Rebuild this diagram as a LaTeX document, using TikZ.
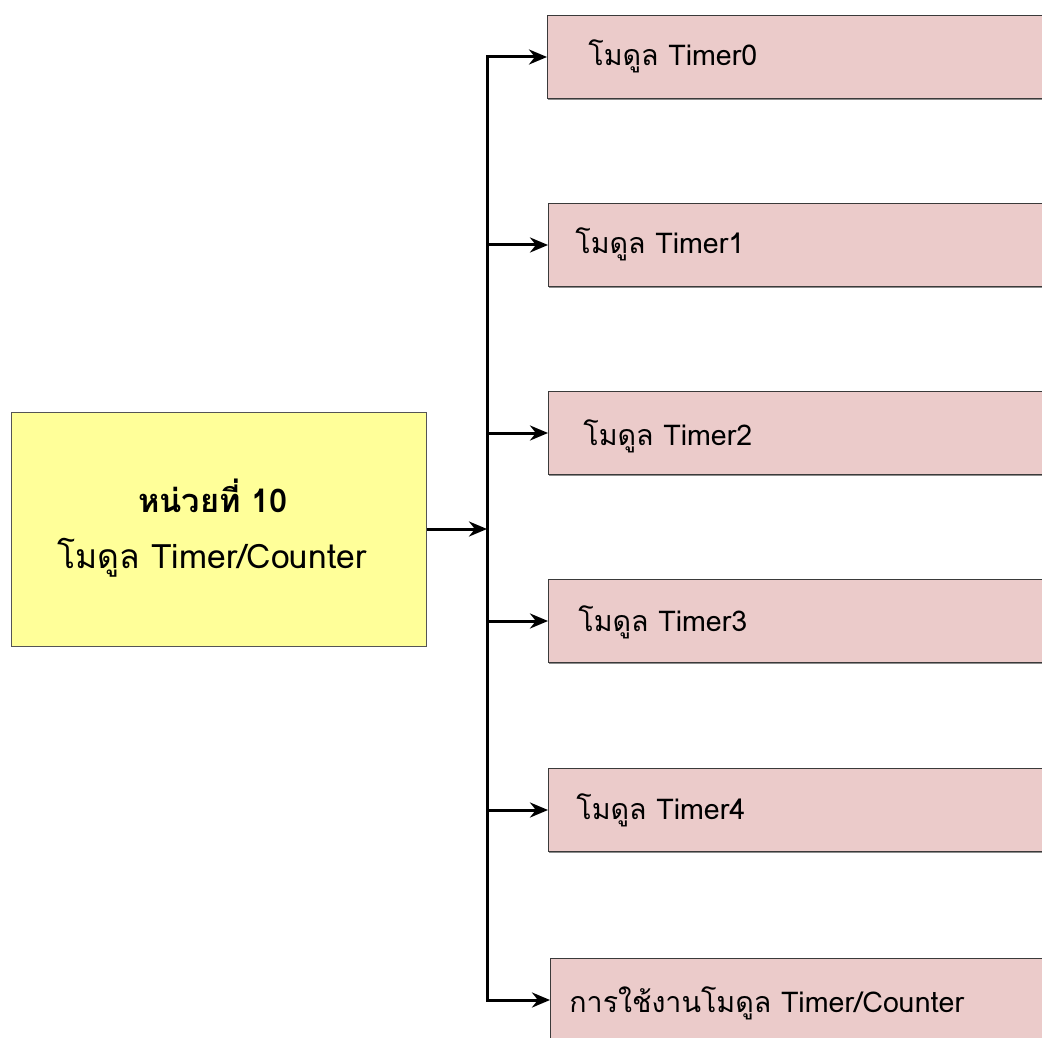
\documentclass[tikz,border=0pt]{standalone}
\usepackage{fontspec}
\newfontfamily\thaifont[Script=Thai]{Loma}
\usetikzlibrary{arrows.meta,shadows}

\definecolor{unitfill}{HTML}{FFFF99}
\definecolor{unitdraw}{HTML}{555555}
\definecolor{modfill}{HTML}{EBCBCA}
\definecolor{moddraw}{HTML}{3A3A3A}

\tikzset{
  x=0.5pt, y=-0.5pt,
  unitbox/.style={draw=unitdraw, line width=0.5pt, fill=unitfill,
    minimum width=207.5pt, minimum height=117pt, inner sep=0pt},
  modbox/.style={draw=moddraw, line width=0.5pt, fill=modfill,
    minimum width=260pt, minimum height=41.5pt, inner sep=0pt, anchor=west,
    drop shadow={shadow xshift=0.4pt, shadow yshift=-0.8pt, fill=black!45, opacity=1}},
  label/.style={font=\thaifont\fontsize{14.3}{17}\selectfont, inner sep=0pt, anchor=base west},
  ulabel/.style={font=\thaifont\fontsize{16.8}{20}\selectfont, inner sep=0pt, anchor=base},
  conn/.style={line width=1.5pt, -{Stealth[length=9pt, width=7.5pt]}},
}

\begin{document}
\begin{tikzpicture}
\useasboundingbox (0,0) rectangle (1042,1037);
\clip (0,0) rectangle (1042,1037);

% chapter box
\node[unitbox] (unit) at (218.5,529) {};
\node[ulabel, font=\thaifont\bfseries\fontsize{16.3}{19}\selectfont] (unitA) at (213,512) {หน่วยที่ 10};
\node[ulabel] (unitB) at (212,568) {โมดูล Timer/Counter};

% module boxes
\node[modbox] (m0) at (547,57) {};
\node[modbox] (m1) at (548,245) {};
\node[modbox] (m2) at (548,433) {};
\node[modbox] (m3) at (548,621) {};
\node[modbox] (m4) at (548,810) {};
\node[modbox] (m5) at (550,1000) {};

\node[label] (l0) at (588,66) {โมดูล Timer0};
\node[label] (l1) at (575,254) {โมดูล Timer1};
\node[label] (l2) at (583,445) {โมดูล Timer2};
\node[label] (l3) at (578,631) {โมดูล Timer3};
\node[label] (l4) at (576,819) {โมดูล Timer4};
\node[label] (l5) at (569,1012) {การใช้งานโมดูล Timer/Counter};

% distribution bus
\coordinate (bus) at (487,529);
\draw[conn] (unit.east) -- (bus);
\foreach \m in {m0,m1,m2,m3,m4,m5}
  \draw[conn] (bus) |- (\m.west);
\end{tikzpicture}
\end{document}
